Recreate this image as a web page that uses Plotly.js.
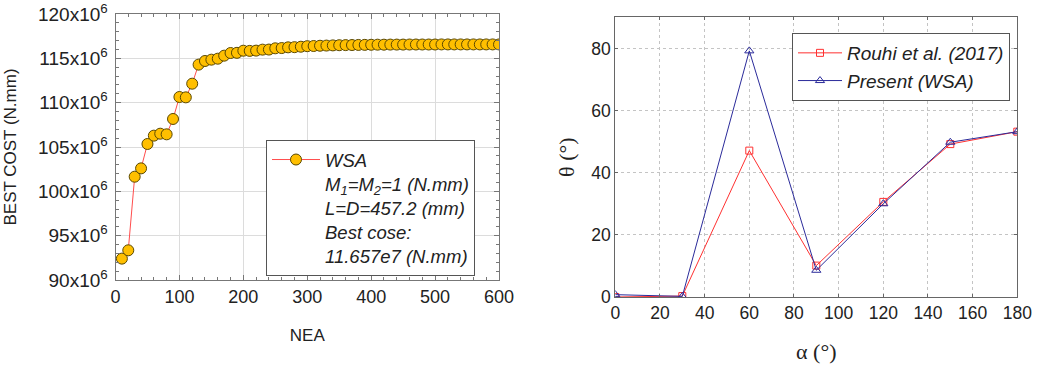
<!DOCTYPE html>
<html>
<head>
<meta charset="utf-8">
<script src="https://cdn.plot.ly/plotly-3.0.1.min.js"></script>
<style>
html,body{margin:0;padding:0;background:#fff;}
#chart{width:1037px;height:370px;}
</style>
</head>
<body>
<div id="chart"></div>
<script>
// ---- Left chart data: best cost vs NEA ----
const neaValues = [10,20,30,40,50,60,70,80,90,100,110,120,130,140,150,160,170,180,190,200,
  210,220,230,240,250,260,270,280,290,300,310,320,330,340,350,360,370,380,390,400,
  410,420,430,440,450,460,470,480,490,500,510,520,530,540,550,560,570,580,590,600];
const bestCost = [92.41e6,93.35e6,101.65e6,102.59e6,105.34e6,106.28e6,106.50e6,106.43e6,108.16e6,110.64e6,
  110.60e6,112.14e6,114.29e6,114.70e6,114.85e6,114.96e6,115.30e6,115.60e6,115.62e6,115.86e6,
  115.84e6,115.87e6,115.98e6,115.99e6,116.13e6,116.16e6,116.24e6,116.26e6,116.31e6,116.37e6,
  116.39e6,116.42e6,116.44e6,116.46e6,116.48e6,116.49e6,116.50e6,116.51e6,116.52e6,116.53e6,
  116.54e6,116.54e6,116.55e6,116.55e6,116.55e6,116.56e6,116.56e6,116.56e6,116.56e6,116.56e6,
  116.57e6,116.57e6,116.57e6,116.57e6,116.57e6,116.57e6,116.57e6,116.57e6,116.57e6,116.57e6];
const costTickVals = [90e6,95e6,100e6,105e6,110e6,115e6,120e6];
const costTickText = ['90x10<sup>6</sup>','95x10<sup>6</sup>','100x10<sup>6</sup>','105x10<sup>6</sup>',
  '110x10<sup>6</sup>','115x10<sup>6</sup>','120x10<sup>6</sup>'];
const wsaLegendText = 'WSA<br>M<sub>1</sub>=M<sub>2</sub>=1 (N.mm)<br>L=D=457.2 (mm)<br>Best cose:<br>11.657e7 (N.mm)';

// ---- Right chart data: theta vs alpha ----
const alphaValues = [0,30,60,90,120,150,180];
const thetaRouhi = [0.0,0.3,47.1,10.1,30.6,49.2,53.2];
const thetaPresent = [0.75,0.2,79.2,8.6,30.0,49.8,53.2];

const sans = 'Liberation Sans, Arial, sans-serif';
const serif = 'Liberation Serif, Times New Roman, serif';

const traces = [
  {
    x: neaValues, y: bestCost, xaxis: 'x', yaxis: 'y', type: 'scatter', mode: 'lines+markers',
    name: wsaLegendText, legend: 'legend',
    line: {color: '#ff4d4d', width: 1},
    marker: {symbol: 'circle', size: 11, color: '#ffbf00', line: {color: '#5a4800', width: 1}}
  },
  {
    x: alphaValues, y: thetaRouhi, xaxis: 'x2', yaxis: 'y2', type: 'scatter', mode: 'lines+markers',
    name: 'Rouhi et al. (2017)', legend: 'legend2',
    line: {color: '#ff3030', width: 1},
    marker: {symbol: 'square-open', size: 7, color: '#ff3030', line: {width: 1}}
  },
  {
    x: alphaValues, y: thetaPresent, xaxis: 'x2', yaxis: 'y2', type: 'scatter', mode: 'lines+markers',
    name: 'Present (WSA)', legend: 'legend2',
    line: {color: '#2b2b9a', width: 1},
    marker: {symbol: 'triangle-up-open', size: 8, color: '#2b2b9a', line: {width: 1}}
  }
];

const layout = {
  width: 1037, height: 370,
  margin: {l: 0, r: 0, t: 0, b: 0},
  paper_bgcolor: '#fff', plot_bgcolor: '#fff',
  font: {family: sans, color: '#222'},
  xaxis: {
    domain: [115.5/1037, 499/1037], range: [0, 600], anchor: 'y',
    tickvals: [0,100,200,300,400,500,600],
    tickfont: {size: 18, color: '#222'},
    showgrid: true, gridcolor: '#dcdcdc', gridwidth: 1, zeroline: false,
    showline: true, linecolor: '#777', linewidth: 1, mirror: 'allticks',
    ticks: 'inside', ticklen: 5, tickcolor: '#777',
    minor: {ticks: 'inside', ticklen: 3, dtick: 20, tick0: 0, tickcolor: '#777', showgrid: false},
    title: {text: 'NEA', font: {size: 17, color: '#222'}, standoff: 23}
  },
  yaxis: {
    domain: [1-280/370, 1-14/370], range: [90e6, 120e6], anchor: 'x',
    tickmode: 'array', tickvals: costTickVals, ticktext: costTickText,
    tickfont: {size: 19, color: '#222'}, ticklabelstandoff: 3,
    showgrid: true, gridcolor: '#dcdcdc', gridwidth: 1, zeroline: false,
    showline: true, linecolor: '#777', linewidth: 1, mirror: 'allticks',
    ticks: 'inside', ticklen: 5, tickcolor: '#777',
    minor: {ticks: 'inside', ticklen: 3, dtick: 1e6, tick0: 90e6, tickcolor: '#777', showgrid: false},
    title: {text: 'BEST COST (N.mm)', font: {size: 17, color: '#222'}, standoff: 17}
  },
  xaxis2: {
    domain: [615.3/1037, 1017.3/1037], range: [0, 180], anchor: 'y2',
    dtick: 20, tick0: 0,
    tickfont: {size: 17.5, color: '#222'},
    showgrid: true, gridcolor: '#c4c4c4', griddash: 'dot', gridwidth: 1, zeroline: false,
    showline: true, linecolor: '#666', linewidth: 1, mirror: 'allticks',
    ticks: 'inside', ticklen: 3, tickcolor: '#666',
    title: {text: 'α (°)', font: {family: serif, size: 22, color: '#222'}, standoff: 21}
  },
  yaxis2: {
    domain: [1-297/370, 1-17.3/370], range: [0, 90], anchor: 'x2',
    dtick: 20, tick0: 0,
    tickfont: {size: 17.5, color: '#222'},
    showgrid: true, gridcolor: '#c4c4c4', griddash: 'dot', gridwidth: 1, zeroline: false,
    showline: true, linecolor: '#666', linewidth: 1, mirror: 'allticks',
    ticks: 'inside', ticklen: 3, tickcolor: '#666',
    title: {text: 'θ (°)', font: {family: serif, size: 22, color: '#222'}, standoff: 10}
  },
  legend: {
    x: 266/1037, y: 1-140/370, xanchor: 'left', yanchor: 'top',
    bgcolor: '#fff', bordercolor: '#555', borderwidth: 1,
    font: {family: sans, size: 18.5, style: 'italic', color: '#222'},
    valign: 'top', tracegroupgap: 0, itemwidth: 48
  },
  legend2: {
    x: 792/1037, y: 1-33/370, xanchor: 'left', yanchor: 'top',
    bgcolor: '#fff', bordercolor: '#555', borderwidth: 1,
    font: {family: sans, size: 19, style: 'italic', color: '#222'},
    tracegroupgap: 0, itemwidth: 44
  },
  showlegend: true
};

Plotly.newPlot('chart', traces, layout, {displayModeBar: false, staticPlot: true});
</script>
</body>
</html>
